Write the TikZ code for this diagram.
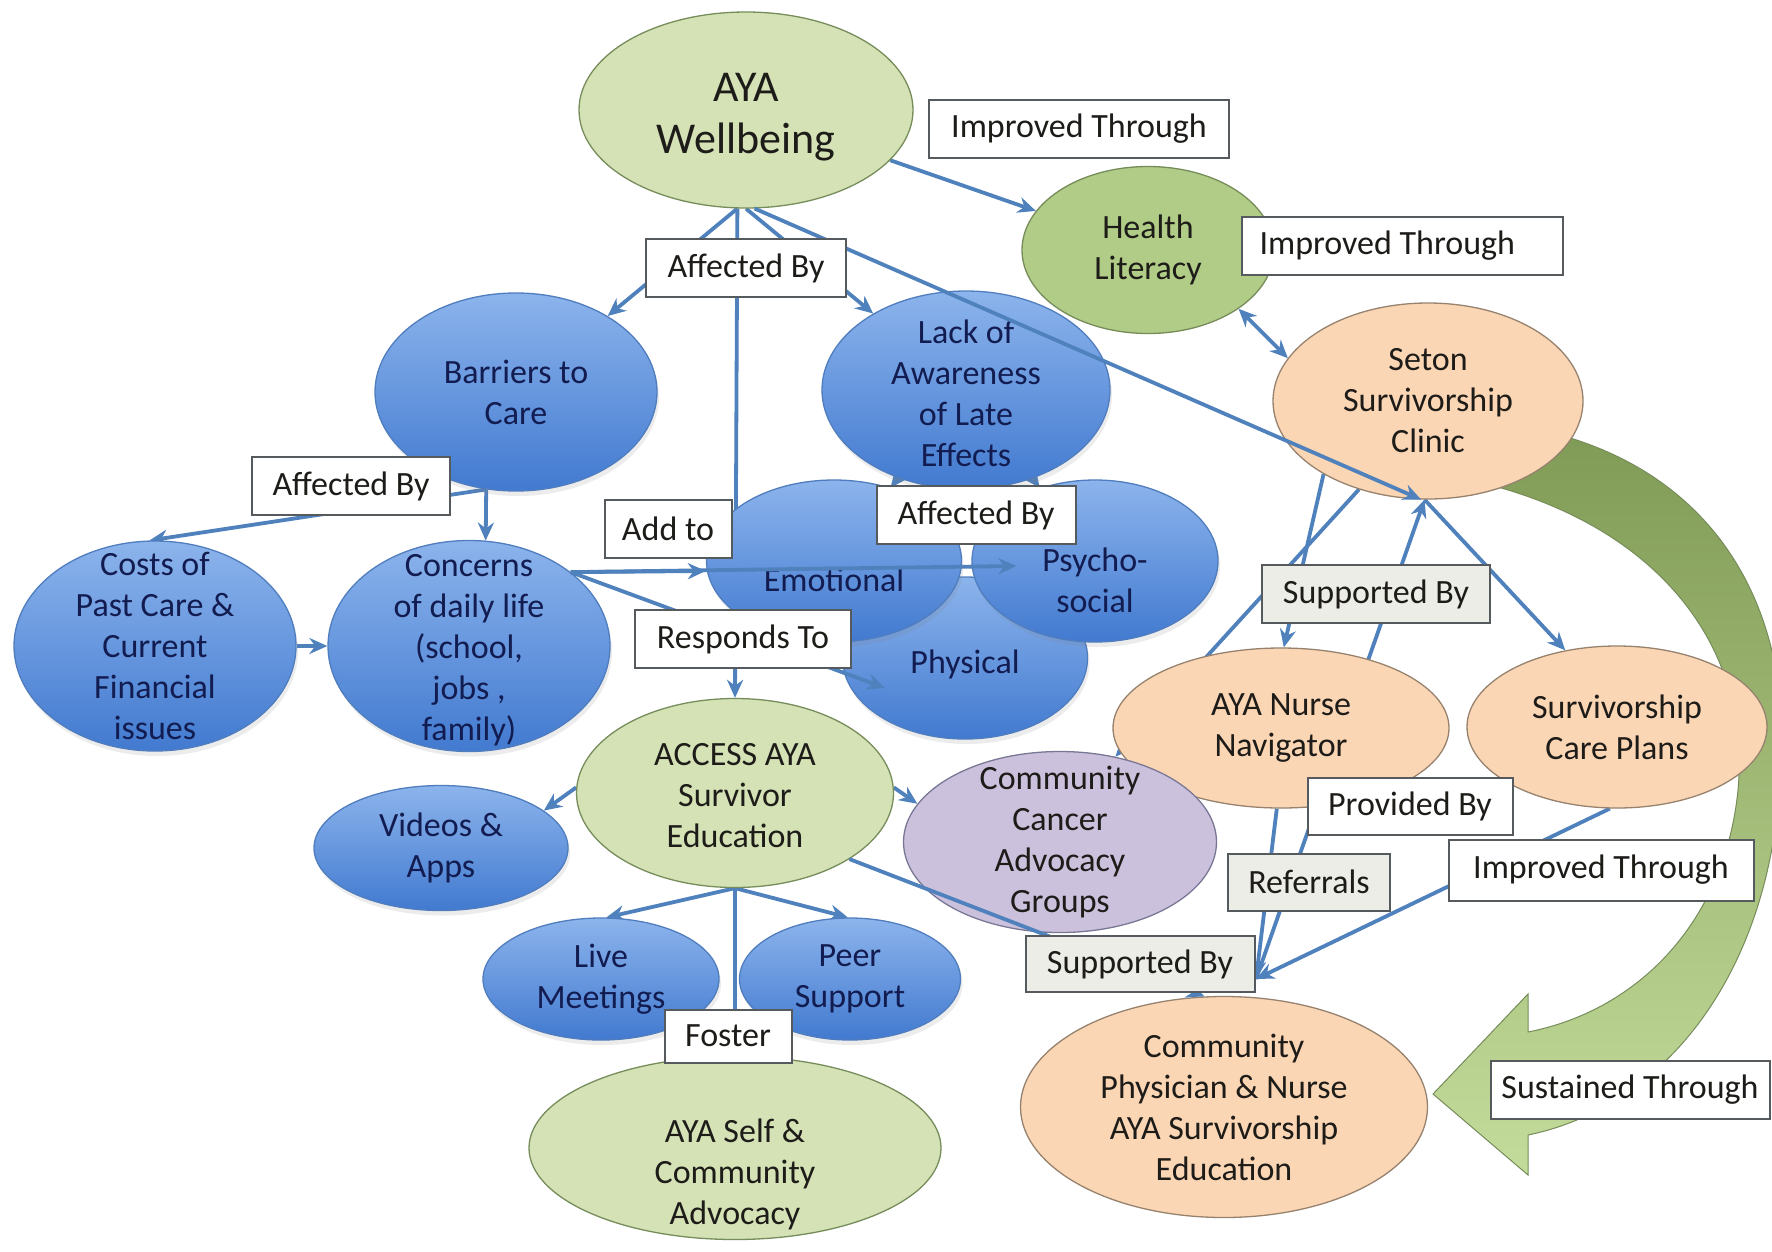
\documentclass[tikz,border=0pt]{standalone}
\usepackage{fontspec}
\setmainfont{Carlito}
\usetikzlibrary{shapes.geometric,arrows.meta,shadows,calc}
\pgfdeclarelayer{bgl}
\pgfdeclarelayer{eback}
\pgfdeclarelayer{efront}
\pgfdeclarelayer{lab}
\pgfsetlayers{bgl,eback,main,efront,lab}
\definecolor{edgeblue}{RGB}{79,129,189}
\definecolor{bluetop}{RGB}{140,180,236}
\definecolor{bluebot}{RGB}{66,122,208}
\definecolor{blueline}{RGB}{80,125,190}
\definecolor{navy}{RGB}{18,28,80}
\definecolor{palegreen}{RGB}{212,226,182}
\definecolor{midgreen}{RGB}{176,204,134}
\definecolor{greenline}{RGB}{118,140,90}
\definecolor{peach}{RGB}{251,214,180}
\definecolor{peachline}{RGB}{150,130,110}
\definecolor{lav}{RGB}{204,193,220}
\definecolor{lavline}{RGB}{120,120,150}
\definecolor{boxline}{RGB}{85,90,95}
\definecolor{boxgrey}{RGB}{237,237,232}
\definecolor{darkolive}{RGB}{128,155,85}
\definecolor{lightolive}{RGB}{196,220,155}
\definecolor{ink}{RGB}{30,28,25}
\tikzset{
 ell/.style={ellipse, inner sep=0pt, line width=1.3pt},
 bluen/.style={ell, draw=blueline, top color=bluetop, bottom color=bluebot,
   drop shadow={opacity=0.15, shadow xshift=2pt, shadow yshift=-5pt}},
 paleg/.style={ell, draw=greenline, fill=palegreen},
 midg/.style={ell, draw=greenline, fill=midgreen},
 peachn/.style={ell, draw=peachline, fill=peach},
 lavn/.style={ell, draw=lavline, fill=lav},
 txt/.style={align=center, font=\fontsize{34}{41}\selectfont, text=ink, inner sep=0pt},
 btxt/.style={txt, text=navy},
 lbl/.style={draw=boxline, line width=2pt, fill=white, minimum height=58pt, inner xsep=0pt,
   font=\fontsize{34}{41}\selectfont, text=ink},
 glbl/.style={lbl, fill=boxgrey},
 conn/.style={draw=edgeblue, line width=3.8pt, -{Stealth[length=18pt,width=16pt]}},
 dconn/.style={draw=edgeblue, line width=3.8pt, {Stealth[length=18pt,width=16pt]}-{Stealth[length=18pt,width=16pt]}},
}
\begin{document}
\begin{tikzpicture}[x=1pt,y=-1pt]
\useasboundingbox (0,0) rectangle (1772,1251);
\begin{pgfonlayer}{bgl}
\fill[white] (0,0) rectangle (1772,1251);
\path[draw=greenline, line width=1pt, top color=darkolive, bottom color=lightolive]
 (1470,480) .. controls (1650,520) and (1752,640) .. (1738,790)
 .. controls (1725,920) and (1640,1010) .. (1528,1032)
 -- (1528,994) -- (1433,1094) -- (1528,1175) -- (1528,1135)
 .. controls (1650,1110) and (1750,1000) .. (1775,830)
 .. controls (1810,620) and (1720,470) .. (1540,430) -- cycle;
\end{pgfonlayer}

% ellipses
\node[bluen, minimum width=245pt, minimum height=162pt] (phys) at (965,658) {};
\node[bluen, minimum width=255pt, minimum height=162pt] (emot) at (834,561) {};
\node[bluen, minimum width=246pt, minimum height=162pt] (psycho) at (1095,561) {};
\node[bluen, minimum width=288pt, minimum height=198pt] (lack) at (966,390) {};
\node[bluen, minimum width=282pt, minimum height=198pt] (barriers) at (516,392) {};
\node[bluen, minimum width=282pt, minimum height=210pt] (costs) at (155,646) {};
\node[bluen, minimum width=282pt, minimum height=211pt] (concerns) at (469,646) {};
\node[paleg, minimum width=317pt, minimum height=189pt] (access) at (735,793) {};
\node[bluen, minimum width=254pt, minimum height=125pt] (videos) at (441,848) {};
\node[bluen, minimum width=236pt, minimum height=122pt] (live) at (601,979) {};
\node[bluen, minimum width=221pt, minimum height=122pt] (peer) at (850,979) {};
\node[paleg, minimum width=412pt, minimum height=183pt] (selfadv) at (735,1148) {};
\node[peachn, minimum width=336pt, minimum height=160pt] (nurse) at (1281,728) {};
\node[lavn, minimum width=313pt, minimum height=181pt] (cca) at (1060,842) {};
\node[peachn, minimum width=300pt, minimum height=162pt] (plans) at (1617,727) {};
\node[peachn, minimum width=407pt, minimum height=221pt] (cp) at (1224,1107) {};
\node[paleg, minimum width=334pt, minimum height=196pt] (aya) at (746,110) {};
\node[midg, minimum width=252pt, minimum height=167pt] (hl) at (1148,250) {};
\node[peachn, minimum width=310pt, minimum height=196pt] (seton) at (1428,401) {};

% texts
\node[txt, font=\fontsize{44}{52}\selectfont] (ayaT) at ([yshift=-7pt]aya.center) {AYA\\Wellbeing};
\node[txt] (hlT) at (hl) {Health\\Literacy};
\node[txt] (setonT) at (seton) {Seton\\Survivorship\\Clinic};
\node[btxt] (barriersT) at (barriers) {Barriers to\\Care};
\node[btxt] (lackT) at ([yshift=-3pt]lack.center) {Lack of\\Awareness\\of Late\\Effects};
\node[btxt] (costsT) at (costs) {Costs of\\Past Care \&\\Current\\Financial\\issues};
\node[btxt] (concernsT) at ([yshift=-4pt]concerns.center) {Concerns\\of daily life\\(school,\\jobs ,\\family)};
\node[btxt] (emotT) at ([yshift=-19pt]emot.center) {Emotional};
\node[btxt] (psychoT) at ([yshift=-19pt]psycho.center) {Psycho-\\social};
\node[btxt] (physT) at ([yshift=-6pt]phys.center) {Physical};
\node[txt] (accessT) at ([yshift=-3pt]access.center) {ACCESS AYA\\Survivor\\Education};
\node[btxt] (videosT) at (videos) {Videos \&\\Apps};
\node[btxt] (liveT) at (live) {Live\\Meetings};
\node[btxt] (peerT) at (peer) {Peer\\Support};
\node[txt] (selfadvT) at ([yshift=-26pt]selfadv.center) {AYA Self \&\\Community\\Advocacy};
\node[txt] (ccaT) at (cca) {Community\\Cancer\\Advocacy\\Groups};
\node[txt] (nurseT) at (nurse) {AYA Nurse\\Navigator};
\node[txt] (plansT) at (plans) {Survivorship\\Care Plans};
\node[txt] (cpT) at (cp) {Community\\Physician \& Nurse\\AYA Survivorship\\Education};

\coordinate (cpin) at ([xshift=32pt,yshift=128pt]cp.center);
\coordinate (physpt) at ([xshift=-80pt,yshift=-30pt]phys.center);

\begin{pgfonlayer}{eback}
\draw[conn] (aya.-95) -- (barriers);
\draw[conn] (aya.-90) -- (lack);
\draw[conn] (aya.-95) -- (access.north);
\draw[conn] (aya) -- (hl);
\draw[dconn] (hl.-33) -- (seton.163);
\draw[conn] (barriers.-107) -- (costs.93);
\draw[conn] (barriers.-107) -- (concerns.81);
\draw[conn] (costs) -- (concerns);
\draw[conn] (lack) -- (emot);
\draw[conn] (lack) -- (psycho);
\draw[conn] (access.178) -- (videos.20);
\draw[conn] (access.2) -- (cca.165);
\draw[conn] (access.south) -- (live.85);
\draw[conn] (access.south) -- (peer.92);
\draw[conn] (access.south) -- (selfadv.north);
\draw[conn] (seton.-145) -- (nurse.88);
\draw[conn] (seton.-128) -- (cca.57);
\draw[conn] (cpin) -- (seton.-92);
\draw[conn] (seton.-92) -- (plans.124);
\draw[conn] (nurse.-93) -- (cpin);
\draw[conn] (plans.-95) -- (cpin);
\end{pgfonlayer}

\begin{pgfonlayer}{efront}
\draw[conn] (aya.-85) -- (seton.-94);
\draw[conn] (concerns.36) -- ([yshift=-10pt]emot.west);
\draw[conn] (concerns.36) -- ([xshift=45pt,yshift=-5pt]psycho.west);
\draw[conn] (concerns.36) -- (physpt);
\draw[conn] (access.-30) -- (cp.100);
\end{pgfonlayer}

\begin{pgfonlayer}{lab}
\node[lbl, minimum width=300pt] (lImp1) at (1079,129) {Improved Through};
\node[lbl, minimum width=321pt, inner xsep=18pt, text width=285pt, align=flush left] (lImp2) at (1402,246) {Improved Through};
\node[lbl, minimum width=200pt] (lAff1) at (746,268) {Affected By};
\node[lbl, minimum width=198pt] (lAff2) at (351,486) {Affected By};
\node[lbl, minimum width=127pt] (lAdd) at (668,529) {Add to};
\node[lbl, minimum width=199pt] (lAff3) at (976,515) {Affected By};
\node[lbl, minimum width=216pt] (lResp) at (743,639) {Responds To};
\node[glbl, minimum width=228pt] (lSup1) at (1376,594) {Supported By};
\node[lbl, minimum width=205pt, minimum height=57pt] (lProv) at (1410,806) {Provided By};
\node[glbl, minimum width=162pt, minimum height=57pt] (lRef) at (1309,882) {Referrals};
\node[lbl, minimum width=305pt, minimum height=61pt] (lImp3) at (1601,870) {Improved Through};
\node[glbl, minimum width=229pt, minimum height=56pt] (lSup2) at (1140,964) {Supported By};
\node[lbl, minimum width=279pt] (lSust) at (1630,1090) {Sustained Through};
\node[lbl, minimum width=127pt, minimum height=53pt] (lFoster) at (728,1036) {Foster};
\end{pgfonlayer}
\end{tikzpicture}
\end{document}
